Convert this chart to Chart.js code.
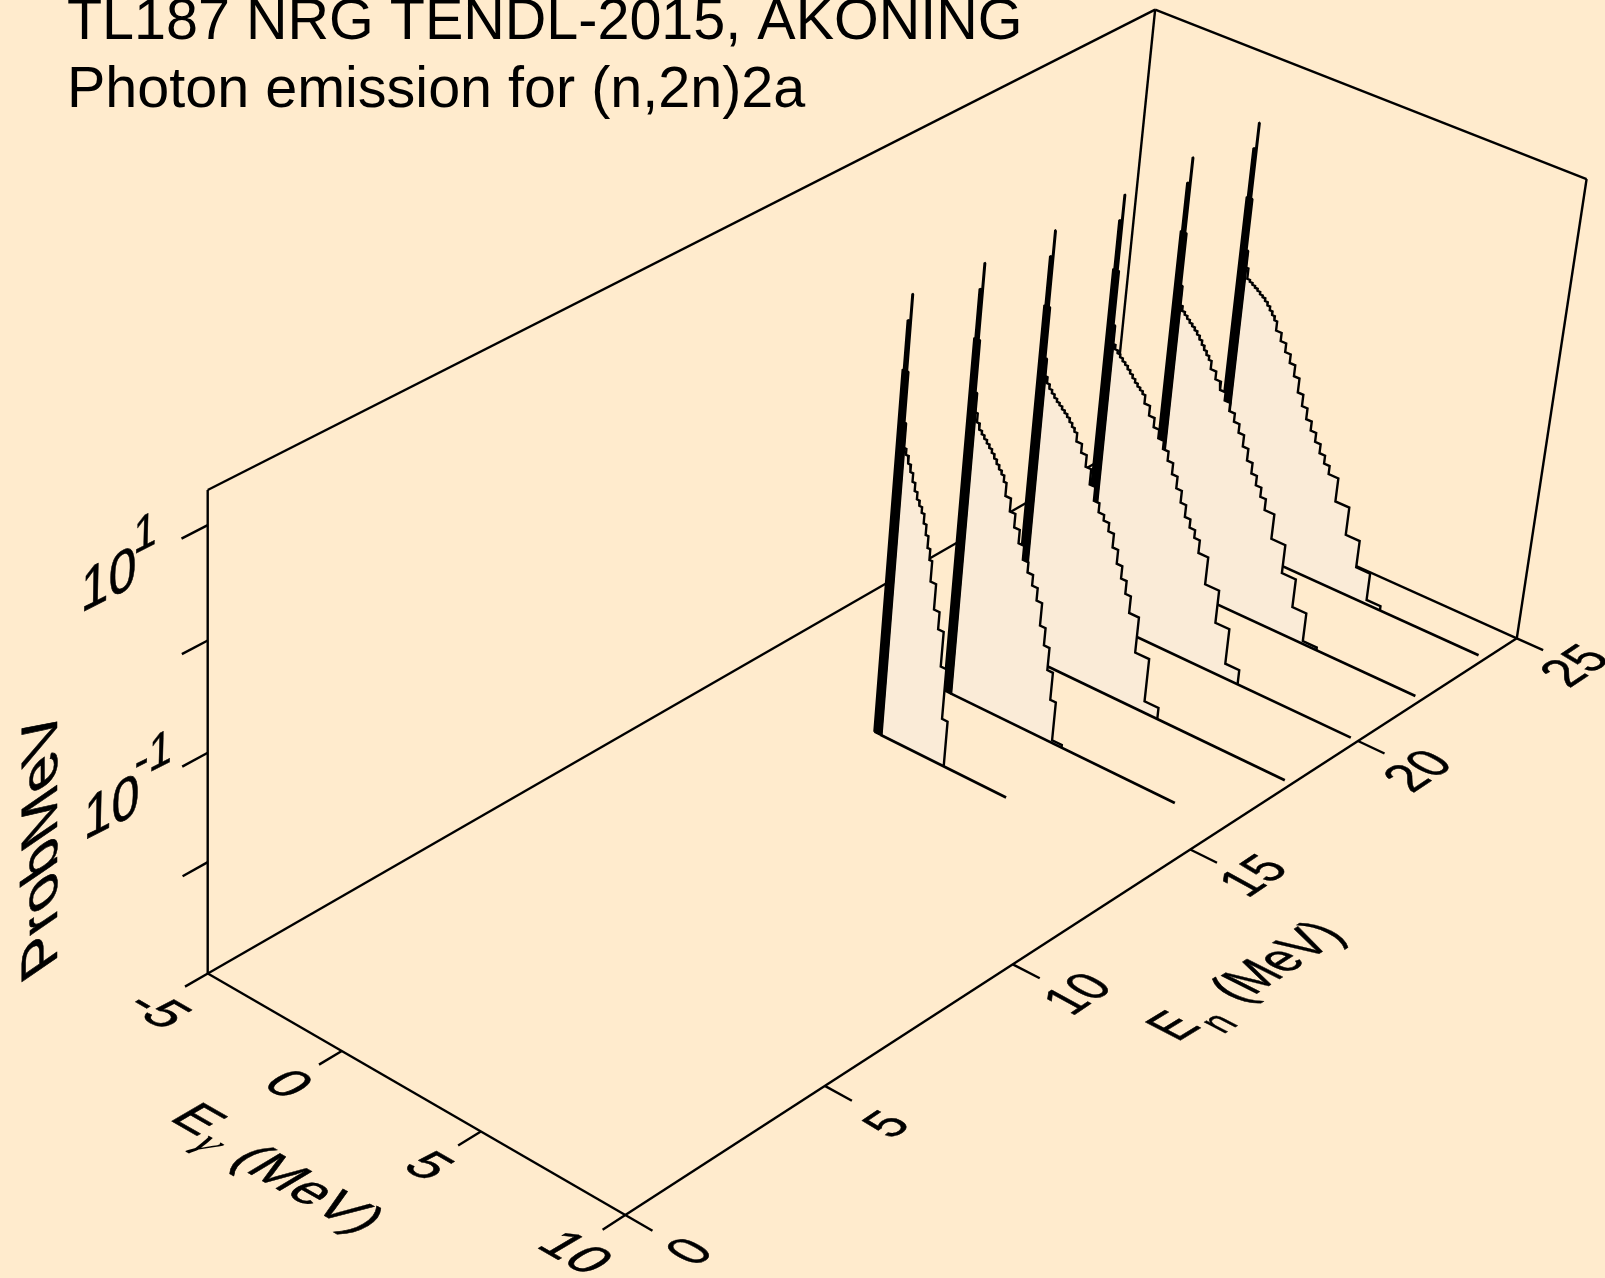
<!DOCTYPE html>
<html>
<head>
<meta charset="utf-8">
<style>
html,body{margin:0;padding:0;background:#FFEBCD;}
canvas{display:block;}
</style>
<script src="https://cdn.jsdelivr.net/npm/chart.js@4"></script>
</head>
<body>
<canvas id="c" width="1605" height="1278"></canvas>
<script>
// ---------- data (energies in MeV, probabilities as log10 ProbMeV) ----------
const titleLines = ["TL187 NRG TENDL-2015, AKONING", "Photon emission for (n,2n)2a"];
const neutronEnergies = [14, 16, 18, 20, 22, 24];
const baselineEnd = [4.75, 8.27, 9.75, 9.75, 9.75, 9.75];
const eGammaTicks = [-5, 0, 5, 10];
const enTicks = [0, 5, 10, 15, 20, 25];
const probTicksLog = [-2, -1, 0, 1];
const eGammaRange = [-5, 10];
const enRange = [0, 25];
const logProbRange = [-3.046, 1.30];

const binEdges = [0.3,0.4,0.5,0.6,0.7,0.8,0.9,1.0,1.1,1.2,1.3,1.4,1.5,1.7,1.9,2.1,2.3,2.5,2.7,2.9,3.1,3.3,3.5,3.7,3.9,4.25,4.75,5.25,5.75,6.25];

const logProb14 = [-0.369,-0.438,-0.504,-0.582,-0.656,-0.721,-0.769,-0.821,-0.908,-1.003,-1.112,-1.212,-1.403,-1.642,-1.803,-2.133,-2.611];
const logProb16 = [-0.438,-0.495,-0.525,-0.556,-0.586,-0.617,-0.651,-0.691,-0.730,-0.769,-0.803,-0.860,-0.982,-1.103,-1.229,-1.355,-1.486,-1.581,-1.681,-1.799,-2.012,-2.177,-2.390,-2.651,-3.02];
const logProb18 = [-0.438,-0.478,-0.508,-0.538,-0.564,-0.586,-0.612,-0.634,-0.660,-0.695,-0.730,-0.764,-0.843,-0.925,-1.034,-1.177,-1.308,-1.394,-1.447,-1.525,-1.655,-1.786,-1.903,-2.025,-2.185,-2.524,-2.937];
const logProb20 = [-0.478,-0.504,-0.530,-0.556,-0.578,-0.608,-0.638,-0.669,-0.699,-0.725,-0.747,-0.773,-0.851,-0.943,-1.029,-1.112,-1.190,-1.277,-1.382,-1.494,-1.607,-1.720,-1.799,-1.873,-1.994,-2.255,-2.568,-2.907];
const logProb22 = [-0.469,-0.495,-0.521,-0.547,-0.569,-0.595,-0.625,-0.660,-0.699,-0.738,-0.773,-0.808,-0.886,-0.960,-1.038,-1.116,-1.195,-1.273,-1.355,-1.464,-1.577,-1.677,-1.768,-1.855,-1.960,-2.199,-2.472,-2.746,-3.02];
const logProb24 = [-0.512,-0.530,-0.547,-0.564,-0.582,-0.604,-0.621,-0.647,-0.677,-0.712,-0.747,-0.786,-0.873,-0.951,-1.034,-1.116,-1.221,-1.355,-1.464,-1.568,-1.655,-1.742,-1.829,-1.907,-1.986,-2.212,-2.481,-2.742,-3.005];
const logProbBySeries = [logProb14, logProb16, logProb18, logProb20, logProb22, logProb24];

// the discrete-line spike at low photon energy
const firstBinLog = [-0.316,-0.356,-0.382,-0.438,-0.425,-0.414];
const shoulderLog = [-0.091,-0.178,-0.221,-0.265,-0.243,-0.256];
const spikeLowLog = [0.370,0.300,0.248,0.235,0.244,0.227];
const spikeMidLog = [0.818,0.748,0.700,0.687,0.696,0.685];
const spikeTopLog = [1.061,0.991,0.944,0.931,0.939,0.931];
const spikeGamma = [-0.04, 0.0, 0.09, 0.11, 0.16, 0.22];

// ---------- perspective frame (pixel images of the box corners) ----------
const cornerFloorNear = [207.8, 973.5];
const cornerFloorFront = [625.3, 1215];
const cornerFloorRight = [1516.8, 638.3];
const cornerFloorBack = [1109.5, 455];
const cornerTopNear = [207.7, 490];
const cornerTopRight = [1586.6, 179];

const [O, B, C, D, T, CT] = [cornerFloorNear, cornerFloorFront, cornerFloorRight, cornerFloorBack, cornerTopNear, cornerTopRight];
const a11 = B[0]-C[0], a12 = D[0]-C[0], a21 = B[1]-C[1], a22 = D[1]-C[1];
const r1 = C[0]-B[0]-D[0]+O[0], r2 = C[1]-B[1]-D[1]+O[1];
const det = a11*a22-a12*a21;
const hx = (r1*a22-a12*r2)/det, hy = (a11*r2-a21*r1)/det;
const sumH = 1+hx+hy;
const base = [0,1].map(i => C[i]*sumH + T[i] - O[i]);
const hz = (base[0]-CT[0]*sumH)/(CT[0]-T[0]);
const X = [0,1].map(i => B[i]*(1+hx)-O[i]);
const Y = [0,1].map(i => D[i]*(1+hy)-O[i]);
const Z = [0,1].map(i => T[i]*(1+hz)-O[i]);

function project(eg, en, lg) {
  const u = (eg-eGammaRange[0])/(eGammaRange[1]-eGammaRange[0]);
  const v = (en-enRange[0])/(enRange[1]-enRange[0]);
  const w = (lg-logProbRange[0])/(logProbRange[1]-logProbRange[0]);
  const d = 1+hx*u+hy*v+hz*w;
  return {x:(O[0]+u*X[0]+v*Y[0]+w*Z[0])/d, y:(O[1]+u*X[1]+v*Y[1]+w*Z[1])/d};
}

// ---------- styles ----------
const INK = '#000000';
const SHEET = '#FAEBD7';
const LW = 2.4;

// ---------- datasets, collected back-to-front ----------
const layers = [];
function line(points, opts) {
  layers.push(Object.assign({
    data: points.map(p => project(p[0], p[1], p[2])),
    showLine:true, pointRadius:0, borderColor:INK, borderWidth:LW, tension:0,
    fill:false, borderJoinStyle:'miter', borderCapStyle:'butt'
  }, opts||{}));
}
const [lo, hi] = logProbRange, [g0, g1] = eGammaRange, [n0, n1] = enRange;
// back faces of the box
line([[g0,n0,lo],[g0,n1,lo]]);
line([[g0,n1,lo],[g1,n1,lo]]);
line([[g0,n1,lo],[g0,n1,hi]]);
line([[g0,n0,hi],[g0,n1,hi]]);
line([[g0,n1,hi],[g1,n1,hi]]);
line([[g1,n1,hi],[g1,n1,lo]]);
line([[g0,n0,lo],[g0,n0,hi]]);
line([[g0,n0,lo],[g1,n0,lo]]);
line([[g1,n0,lo],[g1,n1,lo]]);
// ticks
eGammaTicks.forEach(t => line([[t,n0,lo],[t,-0.55,lo]]));
enTicks.forEach(t => line([[g1,t,lo],[g1+0.92,t,lo]]));
probTicksLog.forEach(t => line([[g0,n0,t],[g0,-0.6,t]]));

// spectra, farthest first
for (let i = neutronEnergies.length-1; i >= 0; i--) {
  const en = neutronEnergies[i], logs = logProbBySeries[i];
  const pts = [[0.2,en,lo],[0.2,en,shoulderLog[i]],[0.2,en,firstBinLog[i]],[binEdges[0],en,firstBinLog[i]]];
  logs.forEach((l,k) => { pts.push([binEdges[k],en,l]); pts.push([binEdges[k+1],en,l]); });
  pts.push([binEdges[logs.length],en,lo]);
  line(pts, {fill:'shape', backgroundColor:SHEET});
  line([[0.2,en,lo],[baselineEnd[i],en,lo]], {borderWidth:2.7});
  const g = spikeGamma, L3 = spikeLowLog[i], L2 = spikeMidLog[i], L1 = spikeTopLog[i], S = shoulderLog[i];
  line([[g[0],en,lo],[g[0],en,L3],[g[1],en,L3],[g[1],en,L2],[g[2],en,L2],[g[2],en,L1],[g[3],en,L1],
        [g[3],en,L2],[g[3],en,L3],[g[4],en,L3],[g[4],en,S],[g[5],en,S],[g[5],en,lo],[g[0],en,lo]],
       {fill:'shape', backgroundColor:INK, borderJoinStyle:'bevel'});
}

// ---------- text placed in the planes of the box ----------
const SANS = '"Liberation Sans", Arial, sans-serif';
const EM = 400;
const SERIF = 'italic ' + EM + 'px "Liberation Serif", serif';
const enB = [39,-26], enU = [-48,-26];
const gamB = [47,27], gamU = [46,-27];
const zB = [50,-25], zU = [1,-60];
const supB = [42,-21], supU = [1,-50];
const placed = [
  {t:'-5',  c:[160,1009],    b:gamB, u:gamU},
  {t:'0',   c:[290,1083],    b:gamB, u:gamU},
  {t:'5',   c:[430.4,1165],  b:gamB, u:gamU},
  {t:'10',  c:[577,1251.7],  b:gamB, u:gamU},
  {t:'0',   c:[688,1250.7],  b:enB, u:enU},
  {t:'5',   c:[885,1123.5],  b:[40,-27], u:[-47,-25]},
  {t:'10',  c:[1076,993],    b:enB, u:enU},
  {t:'15',  c:[1251.7,875],  b:enB, u:enU},
  {t:'20',  c:[1416.6,770],  b:enB, u:enU},
  {t:'25',  c:[1573.3,665],  b:enB, u:enU},
  {t:'E',   c:[200,1118.3],  b:[47,27], u:[46,-27]},
  {t:'\u03B3', c:[212,1142], b:[40,23], u:[38,-22], f:SERIF, thin:true},
  {t:'(MeV)', c:[310,1188.3], b:[48,27], u:[47,-28]},
  {t:'E',   c:[1171.7,1025], b:[38,-23], u:[-51,-26.5]},
  {t:'n',   c:[1217,1022],   b:[30,-18], u:[-40,-21]},
  {t:'(MeV)', c:[1275,960.7],b:[39,-25], u:[-52,-26]},
  {t:'10',  c:[108.7,577.5], b:zB, u:zU},
  {t:'1',   c:[145,531],     b:supB, u:supU},
  {t:'10',  c:[111.7,805],   b:zB, u:zU},
  {t:'-1',  c:[153.3,752.5], b:supB, u:supU},
  {t:'ProbMeV', c:[38.3,846], b:[0,-62], u:[-51,35]}
];

const textPlugin = {
  id:'boxText',
  afterDraw(chart) {
    const ctx = chart.ctx;
    ctx.save();
    ctx.fillStyle = INK;
    ctx.strokeStyle = INK;
    ctx.textAlign = 'left';
    ctx.textBaseline = 'alphabetic';
    ctx.font = '57.5px ' + SANS;
    ctx.fillText(titleLines[0], 67, 39);
    ctx.fillText(titleLines[1], 67, 107);
    ctx.textAlign = 'center';
    placed.forEach(p => {
      ctx.save();
      ctx.font = p.f || (EM + 'px ' + SANS);
      ctx.transform(p.b[0]/EM, p.b[1]/EM, -p.u[0]/EM, -p.u[1]/EM, p.c[0], p.c[1]);
      ctx.fillText(p.t, 0, 0.358*EM);
      if (!p.thin) {
        ctx.lineWidth = 0.01*EM;
        ctx.lineJoin = 'round';
        ctx.strokeText(p.t, 0, 0.358*EM);
      }
      ctx.restore();
    });
    ctx.restore();
  }
};

new Chart(document.getElementById('c'), {
  type:'scatter',
  data:{datasets:layers.slice().reverse()},
  options:{
    responsive:false, animation:false, devicePixelRatio:1,
    layout:{padding:0},
    plugins:{legend:{display:false}, tooltip:{enabled:false}, title:{display:false}},
    scales:{
      x:{type:'linear', min:0, max:1605, display:false},
      y:{type:'linear', min:0, max:1278, reverse:true, display:false}
    }
  },
  plugins:[textPlugin]
});
</script>
</body>
</html>
